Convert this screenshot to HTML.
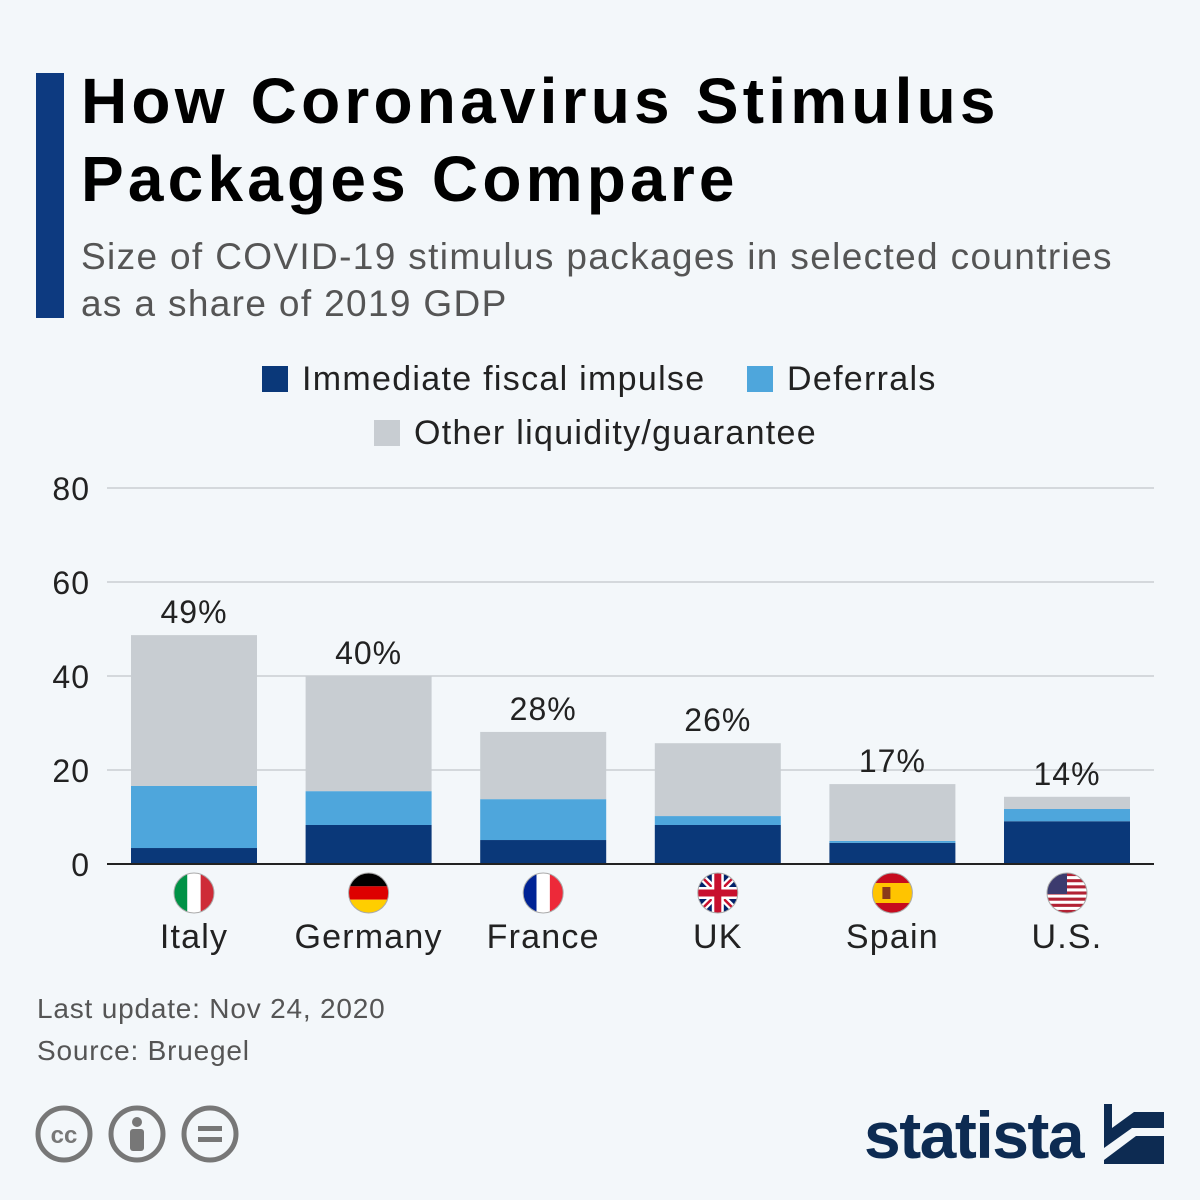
<!DOCTYPE html>
<html><head><meta charset="utf-8"><style>
body{margin:0;width:1200px;height:1200px;background:#f3f7fa;font-family:"Liberation Sans","DejaVu Sans",sans-serif;position:relative;overflow:hidden}
.abs{position:absolute}
</style></head><body>
<div class="abs" style="left:36px;top:73px;width:28px;height:245px;background:#0d3a80"></div>
<div class="abs" style="left:81px;top:62px;font-size:64px;font-weight:bold;line-height:78px;color:#000;letter-spacing:4.2px">How Coronavirus Stimulus<br>Packages Compare</div>
<div class="abs" style="left:81px;top:233px;font-size:37px;line-height:47px;color:#555;letter-spacing:1.35px">Size of COVID-19 stimulus packages in selected countries<br>as a share of 2019 GDP</div>
<div class="abs" style="left:0;top:360px;width:1200px;font-size:34px;color:#222;letter-spacing:1.3px">
 <div class="abs" style="left:262px;top:0;white-space:nowrap"><span style="display:inline-block;width:26px;height:26px;background:#0a3879;vertical-align:-2px;margin-right:14px"></span>Immediate fiscal impulse</div>
 <div class="abs" style="left:747px;top:0;white-space:nowrap"><span style="display:inline-block;width:26px;height:26px;background:#4ea6dc;vertical-align:-2px;margin-right:14px"></span>Deferrals</div>
 <div class="abs" style="left:374px;top:54px;white-space:nowrap"><span style="display:inline-block;width:26px;height:26px;background:#c8cdd2;vertical-align:-2px;margin-right:14px"></span>Other liquidity/guarantee</div>
</div>
<svg id="chart" class="abs" style="left:0;top:0" width="1200" height="1000"></svg>
<div class="abs" style="left:37px;top:993px;font-size:28px;color:#555;letter-spacing:0.8px">Last update: Nov 24, 2020</div>
<div class="abs" style="left:37px;top:1035px;font-size:28px;color:#555;letter-spacing:0.8px">Source: Bruegel</div>
<svg class="abs" style="left:34px;top:1105px" width="210" height="60">
 <g fill="none" stroke="#777" stroke-width="5"><circle cx="30" cy="29" r="26"/><circle cx="103" cy="29" r="26"/><circle cx="176" cy="29" r="26"/></g>
 <text x="30" y="38" font-size="24" font-weight="bold" fill="#777" text-anchor="middle" font-family="Liberation Sans">cc</text>
 <circle cx="103" cy="17" r="5" fill="#777"/><rect x="96" y="24" width="14" height="22" rx="3" fill="#777"/>
 <rect x="164" y="21" width="24" height="5" fill="#777"/><rect x="164" y="32" width="24" height="5" fill="#777"/>
</svg>
<div class="abs" style="left:864px;top:1097px;font-size:66px;font-weight:bold;color:#0d2b52;letter-spacing:-1.5px">statista</div>
<svg class="abs" style="left:1104px;top:1104px" width="60" height="60"><rect width="60" height="60" fill="#0d2b52"/><path d="M0 44 L28 24 L60 24 L60 32 L32 32 L0 56Z M8 0 L60 0 L60 8 L30 8 L8 24Z" fill="#f3f7fa"/></svg>
<script>
const categories=["Italy","Germany","France","UK","Spain","U.S."];
const immediate=[3.4,8.3,5.1,8.3,4.5,9.1];
const deferrals=[13.2,7.2,8.7,1.9,0.4,2.6];
const other=[32.1,24.5,14.3,15.5,12.1,2.6];
const totalLabels=["49%","40%","28%","26%","17%","14%"];
const yTicks=[0,20,40,60,80];
const NS="http://www.w3.org/2000/svg";
const svg=document.getElementById('chart');
const y=v=>864-v*4.7;
const xc=i=>194+i*174.6;
function mk(t,a){const e=document.createElementNS(NS,t);for(const k in a)e.setAttribute(k,a[k]);svg.appendChild(e);return e;}
yTicks.forEach(t=>{
 if(t>0){const l=mk('line',{x1:107,x2:1154,y1:y(t),y2:y(t),stroke:'#b5b9bd','stroke-width':1});
 
 }
 const tx=mk('text',{x:90,y:y(t)+12,'font-size':32,'text-anchor':'end',fill:'#222','font-family':'Liberation Sans','letter-spacing':'1'});
 tx.textContent=t;
 
 
});
const cols=['#0a3879','#4ea6dc','#c8cdd2'];
const names=['immediate','deferrals','other'];
categories.forEach((c,i)=>{
 let base=0;
 [immediate[i],deferrals[i],other[i]].forEach((v,k)=>{
  const r=mk('rect',{x:xc(i)-63,width:126,y:y(base+v),height:v*4.7,fill:cols[k]});
  
  
  base+=v;
 });
 const lb=mk('text',{x:xc(i),y:y(base)-12,'font-size':32,'text-anchor':'middle',fill:'#222','font-family':'Liberation Sans','letter-spacing':'1'});
 lb.textContent=totalLabels[i];
 
 
 const cl=mk('text',{x:xc(i),y:948,'font-size':34,'text-anchor':'middle',fill:'#222','font-family':'Liberation Sans','letter-spacing':'1.2'});
 cl.textContent=c;
 
 
});
const ax=mk('line',{x1:107,x2:1154,y1:864,y2:864,stroke:'#222','stroke-width':2});


const flagDefs=[
 [['#009246',0,1/3],['#fff',1/3,1/3],['#ce2b37',2/3,1/3]],
 [['#000',0,1/3,'h'],['#dd0000',1/3,1/3,'h'],['#ffce00',2/3,1/3,'h']],
 [['#002395',0,1/3],['#fff',1/3,1/3],['#ed2939',2/3,1/3]],
 [['#012169',0,1,'h']],
 [['#c60b1e',0,0.25,'h'],['#ffc400',0.25,0.5,'h'],['#c60b1e',0.75,0.25,'h']],
 [['#fff',0,1,'h']]
];
const defs=mk('defs',{});
flagDefs.forEach((f,i)=>{
 const cx=xc(i),cy=893,r=20;
 const cp=document.createElementNS(NS,'clipPath');cp.setAttribute('id','cf'+i);
 const cc=document.createElementNS(NS,'circle');cc.setAttribute('cx',cx);cc.setAttribute('cy',cy);cc.setAttribute('r',r);cp.appendChild(cc);defs.appendChild(cp);
 const g=mk('g',{'clip-path':'url(#cf'+i+')'});
 
 
 f.forEach(s=>{const e=document.createElementNS(NS,'rect');
  if(s[3]==='h'){e.setAttribute('x',cx-r);e.setAttribute('width',2*r);e.setAttribute('y',cy-r+s[1]*2*r);e.setAttribute('height',s[2]*2*r);}
  else{e.setAttribute('y',cy-r);e.setAttribute('height',2*r);e.setAttribute('x',cx-r+s[1]*2*r);e.setAttribute('width',s[2]*2*r);}
  e.setAttribute('fill',s[0]);g.appendChild(e);});
 if(i===3){g.innerHTML+=`<path d="M${cx-r} ${cy-r}L${cx+r} ${cy+r}M${cx+r} ${cy-r}L${cx-r} ${cy+r}" stroke="#fff" stroke-width="7"/><path d="M${cx-r} ${cy-r}L${cx+r} ${cy+r}M${cx+r} ${cy-r}L${cx-r} ${cy+r}" stroke="#c8102e" stroke-width="2.5"/><rect x="${cx-r}" y="${cy-6}" width="${2*r}" height="12" fill="#fff"/><rect x="${cx-6}" y="${cy-r}" width="12" height="${2*r}" fill="#fff"/><rect x="${cx-r}" y="${cy-3.5}" width="${2*r}" height="7" fill="#c8102e"/><rect x="${cx-3.5}" y="${cy-r}" width="7" height="${2*r}" fill="#c8102e"/>`;}
 if(i===5){let s='';for(let k=0;k<7;k++)s+=`<rect x="${cx-r}" y="${cy-r+k*40/6.5}" width="40" height="3.1" fill="#b22234"/>`;s+=`<rect x="${cx-r}" y="${cy-r}" width="20" height="21" fill="#3c3b6e"/>`;g.innerHTML+=s;}
 if(i===4){g.innerHTML+=`<rect x="${cx-10}" y="${cy-6}" width="8" height="12" fill="#8b3a1a"/>`;}
 mk('circle',{cx:cx,cy:cy,r:r,fill:'none',stroke:'#aaa','stroke-width':1});
});
</script>
</body></html>
